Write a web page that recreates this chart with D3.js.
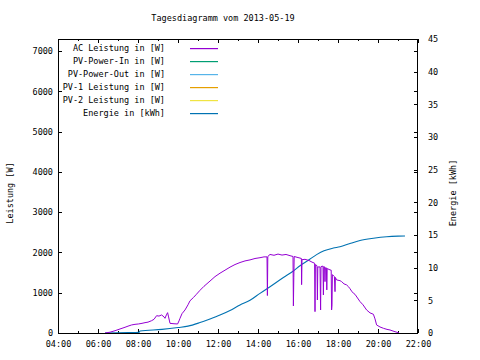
<!DOCTYPE html>
<html><head><meta charset="utf-8">
<script src="https://cdn.jsdelivr.net/npm/d3@7"></script>
<style>
body{margin:0;background:#fff;}
text{font-family:"DejaVu Sans Mono",monospace;font-size:8.5px;fill:#000;}
</style></head>
<body><svg id="c" width="480" height="360"></svg>
<script>
// ---- data ----
const title = "Tagesdiagramm vom 2013-05-19";
const seriesNames = ["AC Leistung in [W]","PV-Power-In in [W]","PV-Power-Out in [W]","PV-1 Leistung in [W]","PV-2 Leistung in [W]","Energie in [kWh]"];
const seriesColors = ["#9400d3","#009e73","#56b4e9","#e69f00","#f0e442","#0072b2"];
const leftTicks = [0,1000,2000,3000,4000,5000,6000,7000];
const rightTicks = [0,5,10,15,20,25,30,35,40,45];
const xTickHours = [4,6,8,10,12,14,16,18,20,22];
// AC power: time (decimal hours), watts
const acTime = [6.35,6.6,6.85,7.1,7.35,7.5,7.68,7.85,8.02,8.2,8.35,8.5,8.68,8.8,8.93,9.05,9.18,9.3,9.35,9.42,9.48,9.52,9.6,9.8,9.98,10.05,10.1,10.2,10.35,10.5,10.6,10.77,10.9,11.1,11.3,11.6,11.85,12.1,12.35,12.6,12.85,13.1,13.35,13.6,13.85,14.1,14.3,14.45,14.47,14.49,14.6,14.8,15.0,15.2,15.4,15.6,15.75,15.77,15.79,15.81,15.95,16.1,16.17,16.18,16.2,16.35,16.55,16.7,16.83,16.85,16.87,16.95,16.97,16.99,17.1,17.13,17.15,17.25,17.27,17.29,17.33,17.35,17.37,17.42,17.44,17.46,17.6,17.66,17.68,17.7,17.72,17.82,17.85,17.87,17.93,18.1,18.18,18.3,18.43,18.52,18.6,18.68,18.77,18.85,19.1,19.25,19.43,19.6,19.77,19.85,19.93,20.1,20.27,20.45,20.6,20.8,21.0,21.05];
const acWatt = [0,20,57,100,142,170,200,215,224,240,257,270,306,340,430,420,448,400,365,450,505,420,240,230,224,300,365,480,572,700,800,880,950,1060,1160,1290,1400,1485,1560,1635,1700,1750,1790,1815,1850,1870,1890,1890,930,1900,1950,1930,1960,1935,1950,1920,1900,672,1370,1900,1880,1860,1850,1200,1820,1830,1800,1760,1733,530,1700,1670,820,1640,1640,572,1650,1660,945,1650,1640,1276,1620,1617,1070,1600,1567,1560,572,697,1450,1400,1027,1380,1318,1300,1276,1220,1194,1152,1100,1040,988,960,780,700,572,500,465,350,200,150,117,90,75,40,10,0];
// Energy: time (decimal hours), kWh
const enTime = [6.35,7.5,8.05,8.1,9.2,10.0,10.5,11.1,11.6,12.1,12.6,13.1,13.6,14.1,14.6,15.27,15.77,16.1,16.5,16.93,17.3,17.77,18.1,18.6,19.1,19.77,20.43,21.0,21.35];
const enKWh = [0,0.05,0.1,0.3,0.56,0.84,1.05,1.6,2.15,2.75,3.45,4.29,5.0,6.07,7.09,8.5,9.5,10.3,11.1,12.0,12.6,13.0,13.2,13.7,14.15,14.5,14.74,14.83,14.85];

// ---- chart ----
const svg = d3.select("#c");
const L=58, R=418, T=39, B=333;
const x = d3.scaleLinear().domain([4,22]).range([L,R]);
const y = d3.scaleLinear().domain([0,7300]).range([B,T]);
const y2 = d3.scaleLinear().domain([0,45]).range([B,T]);
const fmtH = h => String(h).padStart(2,"0")+":00";
const hours = d3.range(4,23);

function clean(g){ g.select(".domain").remove(); g.selectAll("line").attr("stroke","#000").attr("shape-rendering","crispEdges"); g.selectAll("text").attr("font-family",null).attr("font-size",null); }

// bottom axis (major + minor)
svg.append("g").attr("transform",`translate(0,${B})`)
  .call(d3.axisBottom(x).tickValues(hours).tickSize(-2).tickFormat(""))
  .call(clean);
svg.append("g").attr("transform",`translate(0,${B})`)
  .call(d3.axisBottom(x).tickValues(xTickHours).tickSize(-4).tickPadding(8).tickFormat(fmtH))
  .call(clean);
// top mirrored
svg.append("g").attr("transform",`translate(0,${T})`)
  .call(d3.axisTop(x).tickValues(hours).tickSize(-2).tickFormat("")).call(clean);
svg.append("g").attr("transform",`translate(0,${T})`)
  .call(d3.axisTop(x).tickValues(xTickHours).tickSize(-4).tickFormat("")).call(clean);
// left axis
svg.append("g").attr("transform",`translate(${L},0)`)
  .call(d3.axisLeft(y).tickValues(leftTicks).tickSize(-4).tickPadding(5).tickFormat(d3.format("d")))
  .call(clean);
// left mirrored on right
svg.append("g").attr("transform",`translate(${R},0)`)
  .call(d3.axisRight(y).tickValues(leftTicks).tickSize(-4).tickFormat("")).call(clean);
// right axis
svg.append("g").attr("transform",`translate(${R},0)`)
  .call(d3.axisRight(y2).tickValues(rightTicks).tickSize(-4).tickPadding(10).tickFormat(d3.format("d")))
  .call(clean);

// border
svg.append("rect").attr("x",L+0.5).attr("y",T+0.5).attr("width",R-L-1).attr("height",B-T)
  .attr("fill","none").attr("stroke","#000").attr("shape-rendering","crispEdges");

// titles
svg.append("text").attr("x",223).attr("y",21).attr("text-anchor","middle").text(title);
svg.append("text").attr("transform","translate(13,193) rotate(-90)").attr("text-anchor","middle").text("Leistung [W]");
svg.append("text").attr("transform","translate(456,193) rotate(-90)").attr("text-anchor","middle").text("Energie [kWh]");

// lines
const acData = acTime.map((t,i)=>[t,acWatt[i]]);
const enData = enTime.map((t,i)=>[t,enKWh[i]]);
svg.append("clipPath").attr("id","pc").append("rect").attr("x",L).attr("y",T).attr("width",R-L).attr("height",B-T);
const gl = svg.append("g").attr("clip-path","url(#pc)");
gl.append("path").datum(enData).attr("fill","none").attr("stroke",seriesColors[5]).attr("stroke-width",1.1)
  .attr("d",d3.line().curve(d3.curveMonotoneX).x(d=>x(d[0])).y(d=>y2(d[1])));
gl.append("path").datum(acData).attr("fill","none").attr("stroke",seriesColors[0]).attr("stroke-width",1)
  .attr("d",d3.line().x(d=>x(d[0])).y(d=>y(d[1])));

// legend
const lg = svg.append("g");
seriesNames.forEach((n,i)=>{
  const yy = 48 + i*13;
  lg.append("text").attr("x",165).attr("y",yy).attr("dy","0.35em").attr("text-anchor","end").text(n);
  lg.append("rect").attr("x",190).attr("width",28).attr("y",yy).attr("height",1.2)
    .attr("fill",seriesColors[i]);
});
</script></body></html>
